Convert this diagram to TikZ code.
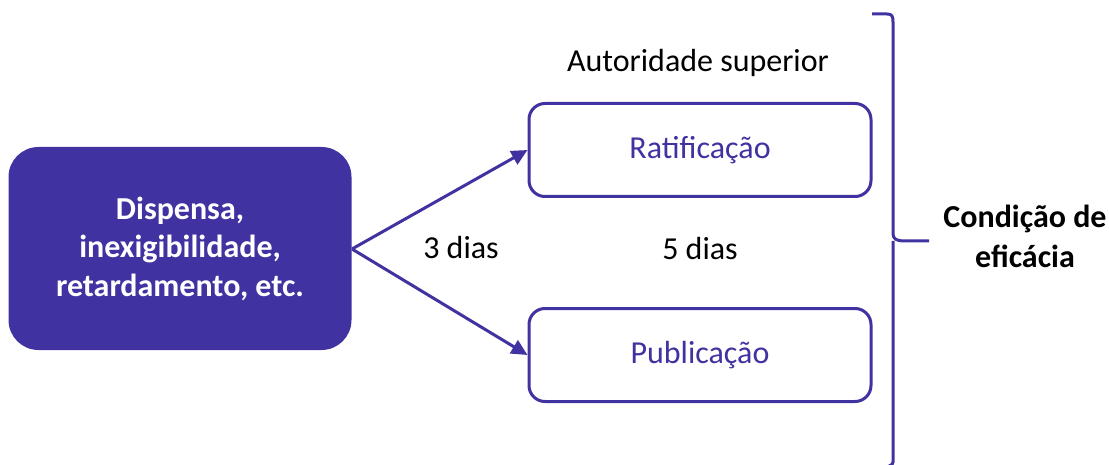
\documentclass[tikz,border=0pt]{standalone}
\usepackage{fontspec}
\setmainfont{Carlito}
\usetikzlibrary{arrows.meta}
\definecolor{ink}{RGB}{64,50,160}
\tikzset{
  srcbox/.style={draw=none,fill=ink,rounded corners=30pt,minimum width=343pt,minimum height=203pt,text=white,font=\fontsize{32}{38.5}\selectfont\bfseries,align=center,inner sep=0pt},
  tgtbox/.style={draw=ink,line width=3pt,fill=white,rounded corners=16pt,minimum width=342pt,minimum height=93pt,text=ink,font=\fontsize{32}{38}\selectfont,inner sep=0pt},
  lbl/.style={font=\fontsize{32}{38}\selectfont,text=black,inner sep=0pt},
  conn/.style={draw=ink,line width=3pt,-{Triangle[length=16pt,width=15pt]}},
}
\begin{document}
\begin{tikzpicture}[x=1pt,y=-1pt]
\useasboundingbox (0,0) rectangle (1109,465);
\node[srcbox] (src) at (180,248.5) {Dispensa,\\inexigibilidade,\\retardamento, etc.};
\node[tgtbox] (rat) at (700,150) {Ratificação};
\node[tgtbox] (pub) at (700,355) {Publicação};
\coordinate (v) at (352,249);
\draw[conn] (v) -- (rat.west);
\draw[conn] (v) -- (pub.west);
\node[lbl] (aut) at (698,63) {Autoridade superior};
\node[lbl] (d3) at (461,248) {3 dias};
\node[lbl] (d5) at (700,249) {5 dias};
\draw[draw=ink,line width=3pt,line join=round]
  (872,14) -- (887,14) .. controls (892,14) and (893,16) .. (893,22)
  -- (893,234) .. controls (893,239) and (897,241) .. (904,241) -- (929,241);
\draw[draw=ink,line width=3pt]
  (893,241) .. controls (893,243) and (893,245) .. (893,248) -- (893,462) .. controls (893,464) and (892,465) .. (889,466);
\node[lbl,font=\fontsize{32}{40}\selectfont\bfseries,align=center] (cond) at (1025,236) {Condição de\\eficácia};
\end{tikzpicture}
\end{document}
